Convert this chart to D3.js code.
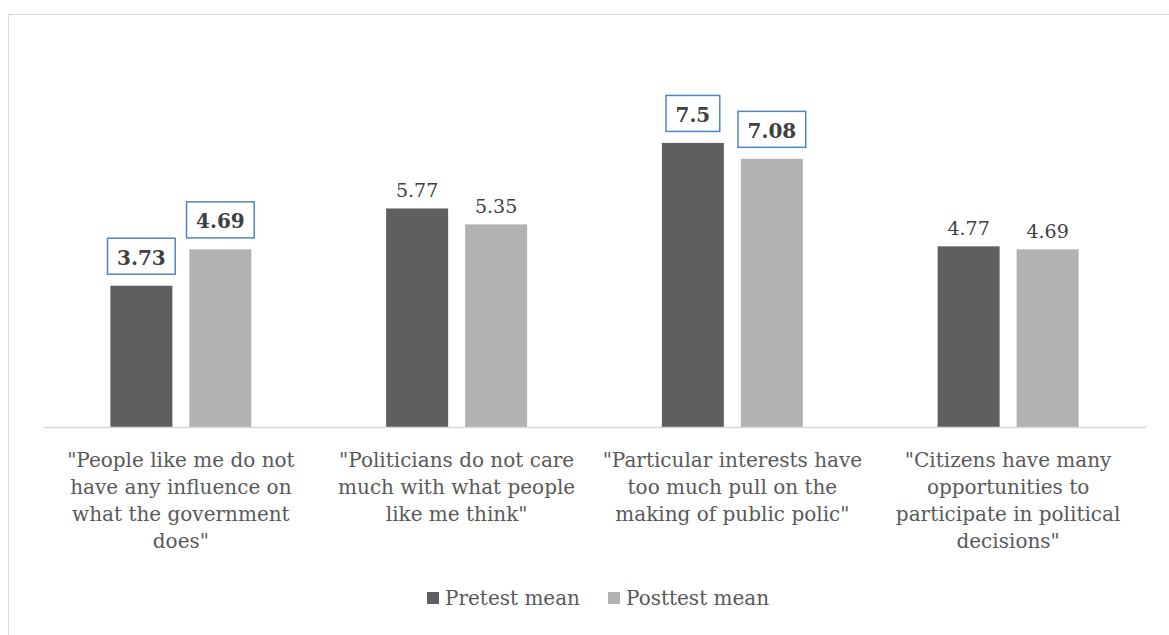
<!DOCTYPE html>
<html>
<head>
<meta charset="utf-8">
<script src="https://cdn.jsdelivr.net/npm/d3@7"></script>
<style>
  html, body { margin: 0; padding: 0; background: #ffffff; }
  svg { display: block; }
</style>
</head>
<body>
<svg id="chart" width="1169" height="635"></svg>
<script>
// Statements shown on the x axis (one array entry per line of text)
const categories = [
  ['"People like me do not', 'have any influence on', 'what the government', 'does"'],
  ['"Politicians do not care', 'much with what people', 'like me think"'],
  ['"Particular interests have', 'too much pull on the', 'making of public polic"'],
  ['"Citizens have many', 'opportunities to', 'participate in political', 'decisions"']
];
const seriesNames = ['Pretest mean', 'Posttest mean'];
const pretest = [3.73, 5.77, 7.5, 4.77];
const posttest = [4.69, 5.35, 7.08, 4.69];
// Labels drawn bold inside an outlined box
const highlighted = [[true, true], [false, false], [true, true], [false, false]];
const colors = ['#5f5f5f', '#b2b2b2'];

const font = '"DejaVu Serif", "Liberation Serif", serif';
const svg = d3.select('#chart');

// Chart frame
svg.append('rect')
  .attr('x', 8.5).attr('y', 14.5)
  .attr('width', 1200).attr('height', 700)
  .attr('fill', '#fff').attr('stroke', '#d9d9d9').attr('stroke-width', 1);

const x0 = d3.scaleBand().domain(d3.range(categories.length)).range([43, 1146]).paddingInner(0).paddingOuter(0);
const x1 = d3.scaleBand().domain(d3.range(seriesNames.length)).range([0, x0.bandwidth()]).paddingInner(0.215).paddingOuter(0.853);
const y = d3.scaleLinear().domain([0, 8]).range([427, 124]);

const rows = categories.map((c, i) => ({ i, vals: [pretest[i], posttest[i]] }));

const groups = svg.append('g').selectAll('g').data(rows).join('g')
  .attr('transform', d => `translate(${x0(d.i)},0)`);

groups.selectAll('rect.bar').data(d => d.vals.map((v, s) => ({ v, s, i: d.i })))
  .join('rect').attr('class', 'bar')
  .attr('x', d => x1(d.s))
  .attr('width', x1.bandwidth())
  .attr('y', d => y(d.v))
  .attr('height', d => y(0) - y(d.v))
  .attr('fill', d => colors[d.s]);

// Value labels
groups.each(function (row) {
  const g = d3.select(this);
  row.vals.forEach((v, s) => {
    const cx = x1(s) + x1.bandwidth() / 2;
    const top = y(v);
    const txt = String(v);
    if (highlighted[row.i][s]) {
      const t = g.append('text')
        .attr('x', cx).attr('y', top - 21)
        .attr('text-anchor', 'middle')
        .attr('font-family', font).attr('font-size', 20).attr('font-weight', 'bold')
        .attr('fill', '#404040').text(txt);
      const w = t.node().getComputedTextLength();
      g.insert('rect', 'text')
        .attr('x', cx - w / 2 - 9.5).attr('y', top - 47.5)
        .attr('width', w + 19).attr('height', 36)
        .attr('fill', '#fff').attr('stroke', '#4f86c6').attr('stroke-width', 1.5);
    } else {
      g.append('text')
        .attr('x', cx).attr('y', top - 11)
        .attr('text-anchor', 'middle')
        .attr('font-family', font).attr('font-size', 19)
        .attr('fill', '#404040').text(txt);
    }
  });
});

// Category axis
const axis = svg.append('g').attr('transform', `translate(0,${y(0)})`)
  .call(d3.axisBottom(x0).tickSize(0).tickFormat(''));
axis.select('.domain').attr('stroke', '#d9d9d9').attr('stroke-width', 1.5);

const labels = svg.append('g').selectAll('text').data(categories).join('text')
  .attr('text-anchor', 'middle')
  .attr('font-family', font).attr('font-size', 20)
  .attr('fill', '#595959')
  .attr('x', (d, i) => x0(i) + x0.bandwidth() / 2)
  .attr('y', 467);
labels.selectAll('tspan').data(d => d).join('tspan')
  .attr('x', function () { return d3.select(this.parentNode).attr('x'); })
  .attr('dy', (d, j) => j === 0 ? 0 : 27)
  .text(d => d);

// Legend
const legend = svg.append('g').attr('font-family', font).attr('font-size', 20).attr('fill', '#595959');
const legendX = [427, 608];
seriesNames.forEach((name, s) => {
  legend.append('rect').attr('x', legendX[s]).attr('y', 592).attr('width', 12).attr('height', 12).attr('fill', colors[s]);
  legend.append('text').attr('x', legendX[s] + 18).attr('y', 605).attr('fill', '#595959').text(name);
});
</script>
</body>
</html>
